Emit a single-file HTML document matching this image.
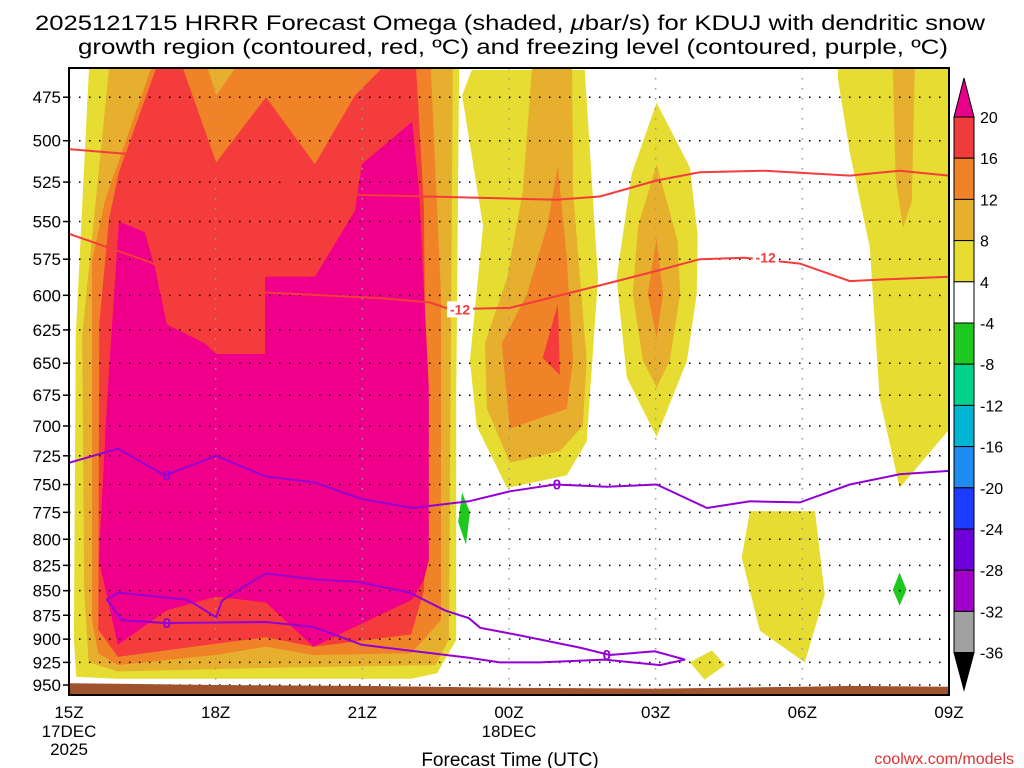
<!DOCTYPE html>
<html><head><meta charset="utf-8"><style>
body{margin:0;background:#fff;}
svg{display:block;font-family:"Liberation Sans",sans-serif;}
</style></head><body>
<svg id="chart" width="1024" height="768" viewBox="0 0 1024 768">
<rect width="1024" height="768" fill="#fff"/>
<text x="35" y="30" font-size="21" textLength="950" lengthAdjust="spacingAndGlyphs">2025121715 HRRR Forecast Omega (shaded, <tspan font-style="italic">μ</tspan>bar/s) for KDUJ with dendritic snow</text>
<text x="78" y="54" font-size="21" textLength="870" lengthAdjust="spacingAndGlyphs">growth region (contoured, red, ºC) and freezing level (contoured, purple, ºC)</text>
<g id="shade"></g>
<g id="grid"></g>
<g id="ground"></g>
<g id="contours"></g>
<rect x="69" y="68" width="880" height="627" fill="none" stroke="#000" stroke-width="2"/>
<g id="axes"></g>
<g id="cbar"></g>
<text x="510" y="766" font-size="19" text-anchor="middle">Forecast Time (UTC)</text>
<text x="1014" y="764" font-size="16" fill="#e03030" text-anchor="end">coolwx.com/models</text>
</svg>
<script>
// ---- data ----
const hourTicks = [0,3,6,9,12,15,18];
const hourLabels = ["15Z","18Z","21Z","00Z","03Z","06Z","09Z"];
const pressureTicks = [475,500,525,550,575,600,625,650,675,700,725,750,775,800,825,850,875,900,925,950];
const cbarLevels = [20,16,12,8,4,-4,-8,-12,-16,-20,-24,-28,-32,-36];
const cbarColors = ["#f03c3c","#f08228","#e6af2d","#e6dc32","#ffffff","#1ec81e","#00d28c","#00b4d2","#1e8cf0","#1e3cff","#6e00dc","#a000c8","#a0a0a0"];
// filled regions [hour, pressure]
const yellowMain = [[0.41,459],[7.98,459],[7.92,679],[7.92,901],[7.53,937],[7.0,943],[1.0,943],[0.15,941],[0.1,900],[0.14,629]];
const goldMain = [[0.82,459],[7.85,459],[7.77,900],[7.5,928],[4,931],[1.0,935],[0.4,925],[0.31,850],[0.27,629]];
const orangeMain = [[1.68,459],[1.2,497],[0.74,536],[0.47,576],[0.47,880],[0.6,915],[1.0,928],[3,917],[4.03,908],[5,917],[7.0,915],[7.61,880],[7.61,600],[7.40,459]];
const goldNotch = [[2.84,459],[3.40,459],[3.01,474]];
const redMain = [[1.78,459],[2.33,459],[3.01,513],[4.03,475],[5.03,514],[5.85,474],[6.40,459],[7.10,459],[7.26,540],[7.30,700],[7.26,850],[7.0,895],[5.0,908],[4.03,898],[3.0,905],[1.0,919],[0.6,890],[0.62,620],[0.82,548],[1.02,519]];
const magentaMain = [[1.02,550],[1.55,557],[1.76,581],[2.0,621],[2.78,635],[3.01,643],[4.01,643],[4.01,587],[5.03,587],[5.85,543],[5.99,514],[7.02,489],[7.16,530],[7.36,669],[7.36,820],[7.26,839],[7.02,859],[5.0,908],[4.03,862],[3.01,856],[2.0,870],[1.0,906],[0.61,820],[0.78,679]];
const yellowMid = [[8.24,460],[10.55,460],[10.82,588],[10.59,713],[10.18,742],[8.96,753],[8.34,700],[8.2,648],[8.47,553],[8.04,474]];
const goldMid = [[9.47,459],[10.29,459],[10.31,531],[10.59,648],[10.51,700],[10.04,721],[9.02,731],[8.55,686],[8.51,635],[8.96,588],[9.28,531]];
const orangeMid = [[10.0,515],[10.18,574],[10.31,648],[10.18,686],[9.02,702],[8.85,635],[9.37,599],[9.78,553]];
const redMid = [[10.0,606],[10.04,659],[9.69,646]];
const yellow03 = [[12.02,478],[12.7,516],[12.86,559],[12.84,599],[12.64,648],[12.02,709],[11.41,661],[11.2,588],[11.51,520]];
const gold03 = [[12.02,514],[12.45,563],[12.5,599],[12.29,648],[12.02,669],[11.74,648],[11.53,599],[11.64,553]];
const orange03 = [[12.02,561],[12.15,599],[12.02,631],[11.84,599]];
const yellowRight = [[15.73,459],[18,459],[18,703],[16.99,753],[16.58,677],[16.38,567],[15.97,507],[15.73,465]];
const goldRight = [[16.85,459],[17.3,459],[17.24,537],[17.06,554],[16.91,523]];
const yellowLow = [[13.93,774],[15.26,774],[15.46,854],[15.05,925],[14.13,891],[13.76,817]];
const yellowSmall = [[12.7,925],[13.15,912],[13.42,928],[13.0,944]];
const green1 = [[8.04,757],[8.2,775],[8.12,805],[7.96,784]];
const green2 = [[16.99,832],[17.13,849],[16.99,865],[16.85,849]];
// contours [hour, pressure]
const redUpper = [[0,505],[1.25,508],[5.95,533],[9.96,536],[10.86,534],[12.02,524],[12.9,519],[14.23,518],[15.97,521],[16.99,518],[18,521]];
const redLower = [[0,558],[1.66,577],[2.68,593],[4.01,598],[6.36,602],[7.38,605],[7.79,610],[9.02,609],[10.86,593],[12.02,583],[12.9,575],[13.82,574],[14.95,578],[15.97,590],[16.58,589],[18,587]];
const redLabels = [[8.0,610],[14.25,574]];
const purpleLine = [[0,731],[1.0,719],[1.96,742],[3.01,725],[4.03,743],[5.01,748],[6.0,763],[7.02,771],[8.18,765],[9.02,756],[9.94,750],[11.0,752],[12.02,750],[13.05,771],[13.93,765],[14.95,766],[15.97,750],[16.99,741],[18,738]];
const purpleLoop = [[0.78,859],[1.0,852],[2.39,859],[2.56,863],[3.01,877],[3.13,860],[3.54,847],[4.03,833],[5.09,839],[5.89,841],[6.97,852],[7.69,870],[8.18,878],[8.41,888],[9.22,896],[10.45,909],[11.06,917],[11.98,913],[12.6,922],[12.09,928],[10.96,922],[9.63,925],[8.81,925],[8.18,920],[5.99,906],[4.99,887],[4.03,882],[1.96,883],[1.08,880]];
const purpleLabels = [[2.0,742],[9.98,750],[2.0,883],[11.0,917]];
const groundTop = [[0,948],[3,950],[6,951],[9,953],[12,954],[15,952],[16,951],[18,952]];

// ---- scales ----
const X0=69,X1=949,YB=685,K=848;
const xs=h=>X0+h*(X1-X0)/18;
const ys=p=>YB-K*Math.log(950/p);
const NS="http://www.w3.org/2000/svg";
function mk(tag,attrs,parent){const e=document.createElementNS(NS,tag);for(const k in attrs)e.setAttribute(k,attrs[k]);parent.appendChild(e);return e;}
const pts=a=>a.map(d=>xs(d[0]).toFixed(1)+","+Math.max(68,Math.min(695,ys(d[1]))).toFixed(1)).join(" ");

const shade=document.getElementById('shade');
const fills=[
 ["yellow-main",yellowMain,"#e6dc32"],["gold-main",goldMain,"#e6af2d"],["orange-main",orangeMain,"#f08228"],["gold-notch",goldNotch,"#e6af2d"],["red-main",redMain,"#f53c3c"],["magenta-main",magentaMain,"#f0008a"],
 ["yellow-mid",yellowMid,"#e6dc32"],["gold-mid",goldMid,"#e6af2d"],["orange-mid",orangeMid,"#f08228"],["red-mid",redMid,"#f53c3c"],
 ["yellow-03z",yellow03,"#e6dc32"],["gold-03z",gold03,"#e6af2d"],["orange-03z",orange03,"#f08228"],
 ["yellow-right",yellowRight,"#e6dc32"],["gold-right",goldRight,"#e6af2d"],["yellow-low",yellowLow,"#e6dc32"],["yellow-small",yellowSmall,"#e6dc32"],
 ["green-1",green1,"#1ec81e"],["green-2",green2,"#1ec81e"]];
fills.forEach(f=>{
 const e=mk('polygon',{points:pts(f[1]),fill:f[2]},shade);
 
 
});

const grid=document.getElementById('grid');
pressureTicks.forEach(p=>{
 const e=mk('line',{x1:X0,x2:X1,y1:ys(p),y2:ys(p),stroke:"#000","stroke-width":1.5,"stroke-dasharray":"1.5 8.5"},grid);
 
 
});
hourTicks.slice(1,-1).forEach(h=>{
 const e=mk('line',{x1:xs(h),x2:xs(h),y1:68,y2:695,stroke:"#999","stroke-width":1.5,"stroke-dasharray":"1.5 8.5"},grid);
 
 
});

const ground=document.getElementById('ground');
const gp=mk('polygon',{points:pts(groundTop)+" "+X1+",695 "+X0+",695",fill:"#a0522d"},ground);



const ct=document.getElementById('contours');
[["red-contour-upper",redUpper,"#f53c3c"],["red-contour-lower",redLower,"#f53c3c"]].forEach(c=>{
 const e=mk('polyline',{points:pts(c[1]),fill:"none",stroke:c[2],"stroke-width":2},ct);
 
 
});
const pl=mk('polyline',{points:pts(purpleLine),fill:"none",stroke:"#9400d3","stroke-width":2},ct);


const pg=mk('polygon',{points:pts(purpleLoop),fill:"none",stroke:"#9400d3","stroke-width":2},ct);


redLabels.forEach(d=>{
 const b=mk('rect',{x:xs(d[0])-13,y:ys(d[1])-8,width:26,height:16,fill:"#fff"},ct);
 
 
 const t=mk('text',{x:xs(d[0]),y:ys(d[1])+5,"font-size":14,"font-weight":"bold",fill:"#f53c3c","text-anchor":"middle"},ct);
 t.textContent="-12";
 
 
});
purpleLabels.forEach(d=>{
 const t=mk('text',{x:xs(d[0]),y:ys(d[1])+5,"font-size":15,"font-weight":"bold",fill:"#9400d3","text-anchor":"middle"},ct);
 t.textContent="0";
 
 
});

const ax=document.getElementById('axes');
pressureTicks.forEach(p=>{
 const t=mk('text',{x:61,y:ys(p)+6,"font-size":17,"text-anchor":"end"},ax);
 t.textContent=p;
 
 
 const l=mk('line',{x1:63,x2:69,y1:ys(p),y2:ys(p),stroke:"#000","stroke-width":1.5},ax);
 
 
});
hourTicks.forEach((h,i)=>{
 const t=mk('text',{x:xs(h),y:718,"font-size":17,"text-anchor":"middle"},ax);
 t.textContent=hourLabels[i];
 
 
});
[["17DEC",0,737],["2025",0,755],["18DEC",9,737]].forEach(d=>{
 const t=mk('text',{x:xs(d[1]),y:d[2],"font-size":17,"text-anchor":"middle"},ax);
 t.textContent=d[0];
 
 
});

const cb=document.getElementById('cbar');
const CX=954,CW=20,CT=117,CS=41.2;
const cy=i=>CT+i*CS;
const tu=mk('polygon',{points:`${CX},${cy(0)} ${CX+CW/2},78 ${CX+CW},${cy(0)}`,fill:"#e6008a",stroke:"#000"},cb);


cbarColors.forEach((c,i)=>{
 const r=mk('rect',{x:CX,y:cy(i),width:CW,height:CS,fill:c,stroke:"#000","stroke-width":1},cb);
 
 
});
const n=cbarColors.length;
const td=mk('polygon',{points:`${CX},${cy(n)} ${CX+CW/2},690 ${CX+CW},${cy(n)}`,fill:"#000",stroke:"#000"},cb);


cbarLevels.forEach((v,i)=>{
 const t=mk('text',{x:980,y:cy(i)+6,"font-size":16},cb);
 t.textContent=v;
 
 
});
</script>
</body></html>
